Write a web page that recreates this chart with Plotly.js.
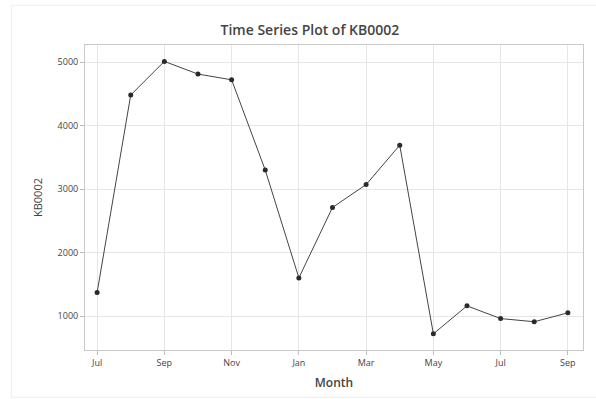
<!DOCTYPE html>
<html>
<head>
<meta charset="utf-8">
<script src="https://cdn.plot.ly/plotly-3.0.1.min.js"></script>
<style>html,body{margin:0;padding:0;background:#fff;}#chart{width:596px;height:399px;}</style>
</head>
<body>
<div id="chart"></div>
<script>
const months = ["Jul","Aug","Sep","Oct","Nov","Dec","Jan","Feb","Mar","Apr","May","Jun","Jul","Aug","Sep"];
const values = [1370, 4480, 5010, 4810, 4720, 3300, 1600, 2710, 3070, 3690, 720, 1160, 960, 910, 1050];
const tickIndex = [0, 2, 4, 6, 8, 10, 12, 14];
const tickLabels = ["Jul","Sep","Nov","Jan","Mar","May","Jul","Sep"];
const yTicks = [1000, 2000, 3000, 4000, 5000];

const x = months.map((m, i) => i);

const trace = {
  x: x, y: values, type: "scatter", mode: "lines+markers",
  line: {color: "#444444", width: 1},
  marker: {color: "#2a2a2a", size: 5, symbol: "circle"},
  text: months, hoverinfo: "text+y"
};

const layout = {
  width: 596, height: 399,
  margin: {l: 85, r: 13, t: 45, b: 49},
  paper_bgcolor: "#fff", plot_bgcolor: "#fff",
  showlegend: false,
  font: {family: "Open Sans, DejaVu Sans, sans-serif", color: "#444"},
  title: {text: "Time Series Plot of KB0002", x: 0.52, xanchor: "center", y: 0.925, yanchor: "middle",
          font: {size: 14, color: "#444", family: "Open Sans, sans-serif", weight: 600}},
  xaxis: {
    range: [-0.36, 14.45], tickvals: tickIndex, ticktext: tickLabels,
    showgrid: true, gridcolor: "#e6e6e6", gridwidth: 1,
    zeroline: false, showline: true, linecolor: "#c8c8c8", mirror: true,
    ticks: "outside", ticklen: 4, tickcolor: "#bbb",
    tickfont: {size: 9, color: "#444"},
    title: {text: "Month", font: {size: 12, color: "#444", weight: 600}, standoff: 10}
  },
  yaxis: {
    range: [465, 5268], tickvals: yTicks,
    showgrid: true, gridcolor: "#e6e6e6", gridwidth: 1,
    zeroline: false, showline: true, linecolor: "#c8c8c8", mirror: true,
    ticks: "outside", ticklen: 4, tickcolor: "#bbb",
    tickfont: {size: 9, color: "#444"},
    title: {text: "KB0002", font: {size: 11, color: "#444"}, standoff: 12}
  },
  shapes: [
    {type: "rect", xref: "paper", yref: "paper", x0: -0.148, x1: 1.03, y0: -0.155, y1: 1.13,
     line: {color: "#eeeeee", width: 1}}
  ]
};

Plotly.newPlot("chart", [trace], layout, {displayModeBar: false, staticPlot: true});
</script>
</body>
</html>
